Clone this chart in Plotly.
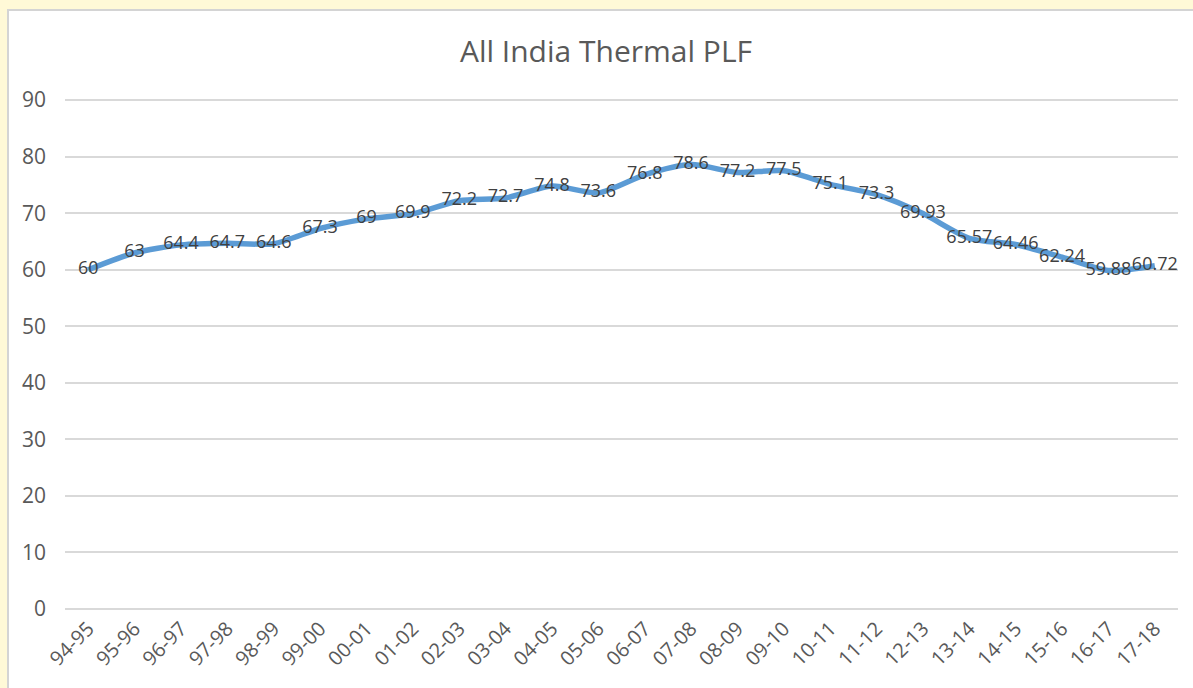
import plotly.graph_objects as go

years = ["94-95", "95-96", "96-97", "97-98", "98-99", "99-00", "00-01", "01-02",
         "02-03", "03-04", "04-05", "05-06", "06-07", "07-08", "08-09", "09-10",
         "10-11", "11-12", "12-13", "13-14", "14-15", "15-16", "16-17", "17-18"]
plf = [60, 63, 64.4, 64.7, 64.6, 67.3, 69, 69.9, 72.2, 72.7, 74.8, 73.6, 76.8,
       78.6, 77.2, 77.5, 75.1, 73.3, 69.93, 65.57, 64.46, 62.24, 59.88, 60.72]
y_ticks = [0, 10, 20, 30, 40, 50, 60, 70, 80, 90]

FONT = "Open Sans, Liberation Sans, sans-serif"

fig = go.Figure(
    go.Scatter(
        x=years,
        y=plf,
        mode="lines+text",
        line=dict(color="#5B9BD5", width=5.5, shape="spline", smoothing=0.7),
        text=[f"{v:g}" for v in plf],
        textposition="middle center",
        textfont=dict(family=FONT, size=18, color="#404040"),
        cliponaxis=False,
        hoverinfo="x+y",
    )
)

L, R, T, B = 65, 15, 99, 79
W, H = 1193, 688
pw, ph = W - L - R, H - T - B

# white chart panel with grey outline on the yellow page
fig.add_shape(
    type="rect", xref="paper", yref="paper", layer="below",
    x0=(8 - L) / pw, x1=(W + 20 - L) / pw,
    y0=-(H + 20 - (H - B)) / ph, y1=((H - B) - 10) / ph,
    fillcolor="white", line=dict(color="#D4D4D4", width=2),
)

fig.update_layout(
    width=W, height=H,
    margin=dict(l=L, r=R, t=T, b=B),
    paper_bgcolor="#FFF9D7",
    plot_bgcolor="white",
    showlegend=False,
    title=dict(
        text="All India Thermal PLF",
        x=606 / W, xref="container", xanchor="center",
        y=1 - 51 / H, yanchor="middle",
        font=dict(family=FONT, size=30, color="#595959"),
    ),
    xaxis=dict(
        type="category",
        range=[-0.5, len(years) - 0.5],
        tickangle=-45,
        tickfont=dict(family=FONT, size=20, color="#595959"),
        showgrid=False,
        showline=False,
        zeroline=False,
        ticks="",
        ticklabelstandoff=3,
    ),
    yaxis=dict(
        range=[0, 90.2],
        tickvals=y_ticks,
        tickfont=dict(family=FONT, size=21, color="#595959"),
        gridcolor="#D9D9D9",
        gridwidth=1.5,
        zeroline=True,
        zerolinecolor="#D9D9D9",
        zerolinewidth=1.5,
        showline=False,
        ticks="",
        ticklabelstandoff=18,
    ),
)

fig.write_html("out.html")
